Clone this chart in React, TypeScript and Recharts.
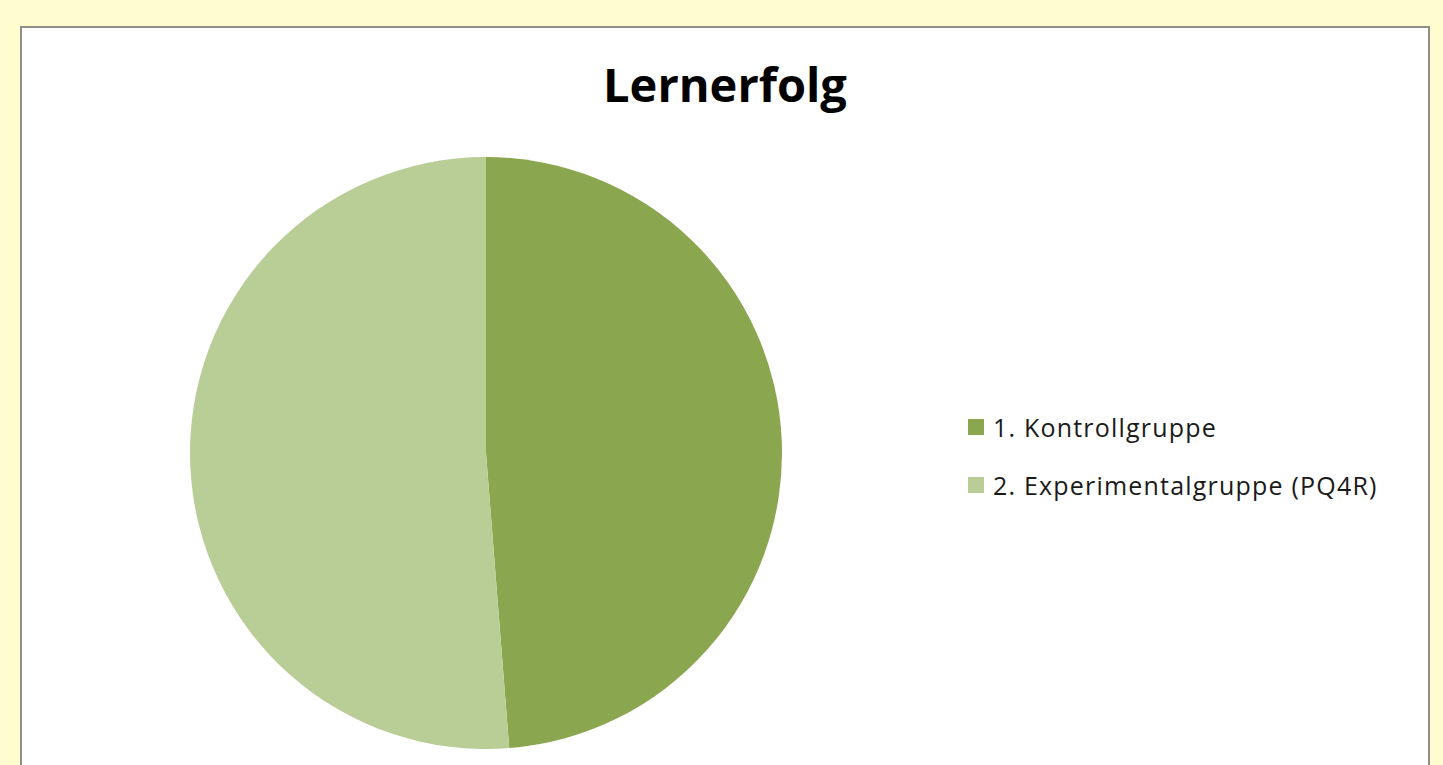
import React from "react";
import { PieChart, Pie, Cell, Legend } from "recharts";

const categories = ["1. Kontrollgruppe", "2. Experimentalgruppe (PQ4R)"];
const values = [39, 41];
const colors = ["#8aa64e", "#b8ce96"];

const data = categories.map((name, i) => ({ name, value: values[i] }));

const font = "'Open Sans', 'DejaVu Sans', sans-serif";

function LegendBox({ payload }: any) {
  return (
    <div style={{ fontFamily: font, fontSize: 25, color: "#1a1a1a" }}>
      {(payload ?? []).map((p: any, i: number) => (
        <div
          key={i}
          style={{ display: "flex", alignItems: "center", height: 58 }}
        >
          <span
            style={{
              width: 16,
              height: 16,
              background: p.color,
              marginRight: 9,
              display: "inline-block",
            }}
          />
          <span style={{ letterSpacing: "1.2px" }}>{p.value}</span>
        </div>
      ))}
    </div>
  );
}

export default function App() {
  return (
    <div
      style={{
        position: "absolute",
        left: 0,
        top: 0,
        width: 1443,
        height: 765,
        background: "#fffdd0",
        overflow: "hidden",
      }}
    >
      <div
        style={{
          position: "absolute",
          left: 20,
          top: 26,
          width: 1406,
          height: 760,
          background: "#ffffff",
          border: "2px solid #8e8f86",
        }}
      />
      <div
        style={{
          position: "absolute",
          left: 22,
          top: 52,
          width: 1406,
          textAlign: "center",
          fontFamily: font,
          fontWeight: 700,
          fontSize: 47,
          color: "#000",
        }}
      >
        Lernerfolg
      </div>
      <div style={{ position: "absolute", left: 0, top: 0 }}>
        <PieChart width={1443} height={765}>
          <Pie
            data={data}
            dataKey="value"
            nameKey="name"
            cx={481}
            cy={448}
            outerRadius={296}
            startAngle={90}
            endAngle={-270}
            stroke="none"
            isAnimationActive={false}
          >
            {data.map((d, i) => (
              <Cell key={d.name} fill={colors[i]} />
            ))}
          </Pie>
          <Legend
            layout="vertical"
            content={<LegendBox />}
            wrapperStyle={{ position: "absolute", left: 968, top: 398, width: 470 }}
          />
        </PieChart>
      </div>
    </div>
  );
}
